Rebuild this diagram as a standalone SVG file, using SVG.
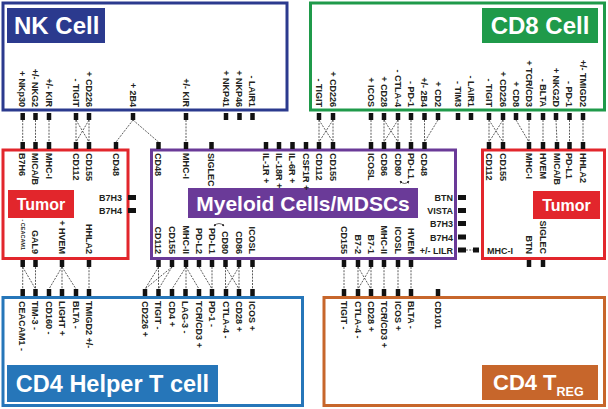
<svg xmlns="http://www.w3.org/2000/svg" xmlns:xlink="http://www.w3.org/1999/xlink" width="608" height="409" viewBox="0 0 608 409">
<style>
.lb{font-family:"Liberation Sans",Arial,sans-serif;font-weight:bold;font-size:9px;fill:#231f20}
.e{text-anchor:end}
.sm{font-size:5.5px}
.ttl{font-family:"Liberation Sans",Arial,sans-serif;font-weight:bold;fill:#fff}
.c{fill:none;stroke:#333;stroke-width:0.8;stroke-dasharray:2 1.2}
.box{fill:#fff;stroke-width:3}
.mk{fill:#111}
</style>
<defs>
<rect id="mv" class="mk" x="-2.25" y="0" width="4.5" height="7"/>
<rect id="mh" class="mk" x="0" y="-2.5" width="8" height="5"/>
<marker id="ah" viewBox="0 0 6 6" refX="5" refY="3" markerWidth="4" markerHeight="4" orient="auto-start-reverse"><path d="M0,0 L6,3 L0,6 z" fill="#231f20"/></marker>
</defs>
<rect width="608" height="409" fill="#fff"/>

<g id="connectors">
<path class="c" d="M22.7,120V142M35.5,120V142M49,120V142M76,120V142M76,120L89,142M89,120L76,142M89,120V142M133,120L116,142M133,120L158.5,142M186,120V142"/>
<path class="c" d="M319,120V142M319,120L333,142M333,120L319,142M333,120V142M371,120V142M384,120V142M384,120L398,142M398,120L384,142M398,120V142M411,120V142M424.5,120V142M438,120L424.5,142"/>
<path class="c" d="M489,120V142M489,120L503,142M503,120L489,142M503,120V142M516,120L529,142M529,120V142M543,120V142M556,120L557,142M569.5,120V142M583,120V142"/>
<path class="c" d="M22.7,267V289M22.7,267L35.5,289M35.5,267V289M62,267L49,289M62,267V289M62,267L76,289M89,267V289"/>
<path class="c" d="M158.5,267L145,289M158.5,267V289M172,267L145,289M172,267L158.5,289M186,267L172,289M186,267V289M186,267L199,289M199,267L212,289M212,267V289M225.5,267V289M225.5,267L239,289M239,267L225.5,289M239,267V289M252.5,267V289"/>
<path class="c" d="M344,267V289M358,267V289M358,267L371,289M371,267L358,289M371,267V289M384,267V289M398,267V289M411,267V289"/>
<path class="c" d="M466,250H473"/>
</g>

<g id="nk-cell">
<rect class="box" x="3" y="3" width="284" height="107" stroke="#2b3a8e"/>
<rect x="7" y="8" width="98" height="35" fill="#2b3a8e"/>
<text class="ttl" x="14" y="34" font-size="24">NK Cell</text>
<use href="#mv" x="22.7" y="113"/><use href="#mv" x="35.5" y="113"/><use href="#mv" x="49" y="113"/><use href="#mv" x="76" y="113"/><use href="#mv" x="89" y="113"/><use href="#mv" x="133" y="113"/><use href="#mv" x="186" y="113"/><use href="#mv" x="226" y="113"/><use href="#mv" x="239.5" y="113"/><use href="#mv" x="252.5" y="113"/>
<text class="lb e" transform="translate(22.7,107) rotate(90)" y="3.2">+ NKp30</text>
<text class="lb e" transform="translate(35.5,107) rotate(90)" y="3.2">+/- NKG2</text>
<text class="lb e" transform="translate(49,107) rotate(90)" y="3.2">+/- KIR</text>
<text class="lb e" transform="translate(76,107) rotate(90)" y="3.2">- TIGIT</text>
<text class="lb e" transform="translate(89,107) rotate(90)" y="3.2">+ CD226</text>
<text class="lb e" transform="translate(133,107) rotate(90)" y="3.2">+ 2B4</text>
<text class="lb e" transform="translate(186,107) rotate(90)" y="3.2">+/- KIR</text>
<text class="lb e" transform="translate(226,107) rotate(90)" y="3.2">+ NKP41</text>
<text class="lb e" transform="translate(239.5,107) rotate(90)" y="3.2">+ NKP46</text>
<text class="lb e" transform="translate(252.5,107) rotate(90)" y="3.2">- LAIR1</text>
</g>

<g id="cd8-cell">
<rect class="box" x="310.5" y="3" width="294" height="107" stroke="#1f9a4a"/>
<rect x="482" y="8" width="116" height="35" fill="#1f9a4a"/>
<text class="ttl" x="540" y="34" font-size="24" text-anchor="middle">CD8 Cell</text>
<use href="#mv" x="319" y="113"/><use href="#mv" x="333" y="113"/><use href="#mv" x="371" y="113"/><use href="#mv" x="384" y="113"/><use href="#mv" x="398" y="113"/><use href="#mv" x="411" y="113"/><use href="#mv" x="424.5" y="113"/><use href="#mv" x="438" y="113"/><use href="#mv" x="458" y="113"/><use href="#mv" x="471" y="113"/><use href="#mv" x="489" y="113"/><use href="#mv" x="503" y="113"/><use href="#mv" x="516" y="113"/><use href="#mv" x="529" y="113"/><use href="#mv" x="543" y="113"/><use href="#mv" x="556" y="113"/><use href="#mv" x="569.5" y="113"/><use href="#mv" x="583" y="113"/>
<text class="lb e" transform="translate(319,107) rotate(90)" y="3.2">- TIGIT</text>
<text class="lb e" transform="translate(333,107) rotate(90)" y="3.2">+ CD226</text>
<text class="lb e" transform="translate(371,107) rotate(90)" y="3.2">+ ICOS</text>
<text class="lb e" transform="translate(384,107) rotate(90)" y="3.2">+ CD28</text>
<text class="lb e" transform="translate(398,107) rotate(90)" y="3.2">- CTLA-4</text>
<text class="lb e" transform="translate(411,107) rotate(90)" y="3.2">- PD-1</text>
<text class="lb e" transform="translate(424.5,107) rotate(90)" y="3.2">+/- 2B4</text>
<text class="lb e" transform="translate(438,107) rotate(90)" y="3.2">+ CD2</text>
<text class="lb e" transform="translate(458,107) rotate(90)" y="3.2">- TIM3</text>
<text class="lb e" transform="translate(471,107) rotate(90)" y="3.2">- LAIR1</text>
<text class="lb e" transform="translate(489,107) rotate(90)" y="3.2">- TIGIT</text>
<text class="lb e" transform="translate(503,107) rotate(90)" y="3.2">+ CD226</text>
<text class="lb e" transform="translate(516,107) rotate(90)" y="3.2">+ CD8</text>
<text class="lb e" transform="translate(529,107) rotate(90)" y="3.2">+ TCR/CD3</text>
<text class="lb e" transform="translate(543,107) rotate(90)" y="3.2">- BLTA</text>
<text class="lb e" transform="translate(556,107) rotate(90)" y="3.2">+ NKG2D</text>
<text class="lb e" transform="translate(569.5,107) rotate(90)" y="3.2">- PD-1</text>
<text class="lb e" transform="translate(583,107) rotate(90)" y="3.2">+/- TMIGD2</text>
</g>

<g id="tumor-left">
<rect class="box" x="3" y="150" width="125" height="108.5" stroke="#e2262c"/>
<rect x="8" y="190" width="66" height="28" fill="#e2262c"/>
<text class="ttl" x="41" y="209.7" font-size="16" text-anchor="middle">Tumor</text>
<use href="#mv" x="22.7" y="142"/><use href="#mv" x="35.5" y="142"/><use href="#mv" x="49" y="142"/><use href="#mv" x="76" y="142"/><use href="#mv" x="89" y="142"/><use href="#mv" x="116" y="142"/>
<use href="#mv" x="22.7" y="260"/><use href="#mv" x="35.5" y="260"/><use href="#mv" x="62" y="260"/><use href="#mv" x="89" y="260"/>
<use href="#mh" x="128" y="197.5"/><use href="#mh" x="128" y="210.5"/>
<text class="lb" transform="translate(22.7,153) rotate(90)" y="3.2">B7H6</text>
<text class="lb" transform="translate(35.5,153) rotate(90)" y="3.2">MICA/B</text>
<text class="lb" transform="translate(49,153) rotate(90)" y="3.2">MHC-I</text>
<text class="lb" transform="translate(76,153) rotate(90)" y="3.2">CD112</text>
<text class="lb" transform="translate(89,153) rotate(90)" y="3.2">CD155</text>
<text class="lb" transform="translate(116,153) rotate(90)" y="3.2">CD48</text>
<text class="lb e" x="122" y="201">B7H3</text>
<text class="lb e" x="122" y="214">B7H4</text>
<text class="lb e sm" transform="translate(22.7,250) rotate(90)" y="2">- CEACAM1</text>
<text class="lb e" transform="translate(35.5,254) rotate(90)" y="3.2">GAL9</text>
<text class="lb e" transform="translate(62,254) rotate(90)" y="3.2">+ HVEM</text>
<text class="lb e" transform="translate(89,254) rotate(90)" y="3.2">HHLA2</text>
</g>

<g id="myeloid">
<rect class="box" x="151.5" y="150" width="304" height="108.5" stroke="#6a3a98"/>
<rect x="188" y="188" width="230" height="30" fill="#6a3a98"/>
<text class="ttl" x="303" y="210.5" font-size="21" text-anchor="middle">Myeloid Cells/MDSCs</text>
<use href="#mv" x="158.5" y="142"/><use href="#mv" x="186" y="142"/><use href="#mv" x="211.5" y="142"/><use href="#mv" x="266" y="142"/><use href="#mv" x="279" y="142"/><use href="#mv" x="292.5" y="142"/><use href="#mv" x="306" y="142"/><use href="#mv" x="319" y="142"/><use href="#mv" x="333" y="142"/><use href="#mv" x="371" y="142"/><use href="#mv" x="384" y="142"/><use href="#mv" x="398" y="142"/><use href="#mv" x="411" y="142"/><use href="#mv" x="424.5" y="142"/>
<use href="#mv" x="158.5" y="260"/><use href="#mv" x="172" y="260"/><use href="#mv" x="186" y="260"/><use href="#mv" x="199" y="260"/><use href="#mv" x="212" y="260"/><use href="#mv" x="225.5" y="260"/><use href="#mv" x="239" y="260"/><use href="#mv" x="252.5" y="260"/><use href="#mv" x="344" y="260"/><use href="#mv" x="358" y="260"/><use href="#mv" x="371" y="260"/><use href="#mv" x="384" y="260"/><use href="#mv" x="398" y="260"/><use href="#mv" x="411" y="260"/>
<use href="#mh" x="458" y="197.5"/><use href="#mh" x="458" y="210.5"/><use href="#mh" x="458" y="223.5"/><use href="#mh" x="458" y="237"/><use href="#mh" x="458" y="250"/>
<text class="lb" transform="translate(158.5,153) rotate(90)" y="3.2">CD48</text>
<text class="lb" transform="translate(186,153) rotate(90)" y="3.2">MHC-I</text>
<text class="lb" transform="translate(211.5,153) rotate(90)" y="3.2">SIGLEC</text>
<text class="lb" transform="translate(266,153) rotate(90)" y="3.2">IL-1R +</text>
<text class="lb" transform="translate(279,153) rotate(90)" y="3.2">IL-18R +</text>
<text class="lb" transform="translate(292.5,153) rotate(90)" y="3.2">IL-6R +</text>
<text class="lb" transform="translate(306,153) rotate(90)" y="3.2">CSF1R +</text>
<text class="lb" transform="translate(319,153) rotate(90)" y="3.2">CD112</text>
<text class="lb" transform="translate(333,153) rotate(90)" y="3.2">CD155</text>
<text class="lb" transform="translate(371,153) rotate(90)" y="3.2">ICOSL</text>
<text class="lb" transform="translate(384,153) rotate(90)" y="3.2">CD86</text>
<text class="lb" transform="translate(398,153) rotate(90)" y="3.2">CD80</text>
<text class="lb" transform="translate(411,153) rotate(90)" y="3.2">PD-L1</text>
<text class="lb" transform="translate(424.5,153) rotate(90)" y="3.2">CD48</text>
<path d="M400,181 Q404.5,186 409,181" fill="none" stroke="#231f20" stroke-width="0.7" marker-start="url(#ah)" marker-end="url(#ah)"/>
<text class="lb e" transform="translate(158.5,254) rotate(90)" y="3.2">CD112</text>
<text class="lb e" transform="translate(172,254) rotate(90)" y="3.2">CD155</text>
<text class="lb e" transform="translate(186,254) rotate(90)" y="3.2">MHC-II</text>
<text class="lb e" transform="translate(199,254) rotate(90)" y="3.2">PD-L2</text>
<text class="lb e" transform="translate(212,254) rotate(90)" y="3.2">PD-L1</text>
<text class="lb e" transform="translate(225.5,254) rotate(90)" y="3.2">CD80</text>
<text class="lb e" transform="translate(239,254) rotate(90)" y="3.2">CD86</text>
<text class="lb e" transform="translate(252.5,254) rotate(90)" y="3.2">ICOSL</text>
<path d="M214,226 Q219,221 224,226" fill="none" stroke="#231f20" stroke-width="0.7" marker-start="url(#ah)" marker-end="url(#ah)"/>
<text class="lb e" transform="translate(344,254) rotate(90)" y="3.2">CD155</text>
<text class="lb e" transform="translate(358,254) rotate(90)" y="3.2">B7-2</text>
<text class="lb e" transform="translate(371,254) rotate(90)" y="3.2">B7-1</text>
<text class="lb e" transform="translate(384,254) rotate(90)" y="3.2">MHC-II</text>
<text class="lb e" transform="translate(398,254) rotate(90)" y="3.2">ICOSL</text>
<text class="lb e" transform="translate(411,254) rotate(90)" y="3.2">HVEM</text>
<text class="lb e" x="453" y="201">BTN</text>
<text class="lb e" x="453" y="214">VISTA</text>
<text class="lb e" x="453" y="227">B7H3</text>
<text class="lb e" x="453" y="240.5">B7H4</text>
<text class="lb e" x="453" y="253.5">+/- LILR</text>
</g>

<g id="tumor-right">
<rect class="box" x="482.5" y="150" width="122" height="108.5" stroke="#e2262c"/>
<rect x="533" y="191" width="67" height="28" fill="#e2262c"/>
<text class="ttl" x="566.5" y="210.7" font-size="16" text-anchor="middle">Tumor</text>
<use href="#mv" x="489" y="142"/><use href="#mv" x="503" y="142"/><use href="#mv" x="529" y="142"/><use href="#mv" x="543" y="142"/><use href="#mv" x="557" y="142"/><use href="#mv" x="569.5" y="142"/><use href="#mv" x="583" y="142"/>
<use href="#mv" x="529" y="260"/><use href="#mv" x="543" y="260"/>
<rect class="mk" x="473" y="247.5" width="6" height="5"/>
<text class="lb" transform="translate(489,153) rotate(90)" y="3.2">CD112</text>
<text class="lb" transform="translate(503,153) rotate(90)" y="3.2">CD155</text>
<text class="lb" transform="translate(529,153) rotate(90)" y="3.2">MHC-I</text>
<text class="lb" transform="translate(543,153) rotate(90)" y="3.2">HVEM</text>
<text class="lb" transform="translate(557,153) rotate(90)" y="3.2">MICA/B</text>
<text class="lb" transform="translate(569.5,153) rotate(90)" y="3.2">PD-L1</text>
<text class="lb" transform="translate(583,153) rotate(90)" y="3.2">HHLA2</text>
<text class="lb e" transform="translate(529,254) rotate(90)" y="3.2">BTN</text>
<text class="lb e" transform="translate(543,254) rotate(90)" y="3.2">SIGLEC</text>
<text class="lb" x="487" y="253.5">MHC-I</text>
</g>

<g id="cd4-helper">
<rect class="box" x="3" y="297.5" width="299.5" height="108" stroke="#2676b9"/>
<rect x="7" y="365" width="211" height="37" fill="#2676b9"/>
<text class="ttl" x="112.5" y="392" font-size="23.5" text-anchor="middle">CD4 Helper T cell</text>
<use href="#mv" x="22.7" y="289"/><use href="#mv" x="35.5" y="289"/><use href="#mv" x="49" y="289"/><use href="#mv" x="62" y="289"/><use href="#mv" x="76" y="289"/><use href="#mv" x="89" y="289"/><use href="#mv" x="145" y="289"/><use href="#mv" x="158.5" y="289"/><use href="#mv" x="172" y="289"/><use href="#mv" x="185.5" y="289"/><use href="#mv" x="199" y="289"/><use href="#mv" x="212" y="289"/><use href="#mv" x="226" y="289"/><use href="#mv" x="239" y="289"/><use href="#mv" x="252.5" y="289"/>
<text class="lb" transform="translate(22.7,301) rotate(90)" y="3.2">CEACAM1 -</text>
<text class="lb" transform="translate(35.5,301) rotate(90)" y="3.2">TIM-3 -</text>
<text class="lb" transform="translate(49,301) rotate(90)" y="3.2">CD160 -</text>
<text class="lb" transform="translate(62,301) rotate(90)" y="3.2">LIGHT +</text>
<text class="lb" transform="translate(76,301) rotate(90)" y="3.2">BLTA -</text>
<text class="lb" transform="translate(89,301) rotate(90)" y="3.2">TMIGD2 +/-</text>
<text class="lb" transform="translate(145,301) rotate(90)" y="3.2">CD226 +</text>
<text class="lb" transform="translate(158.5,301) rotate(90)" y="3.2">TIGIT -</text>
<text class="lb" transform="translate(172,301) rotate(90)" y="3.2">CD4 +</text>
<text class="lb" transform="translate(185.5,301) rotate(90)" y="3.2">LAG-3 -</text>
<text class="lb" transform="translate(199,301) rotate(90)" y="3.2">TCR/CD3 +</text>
<text class="lb" transform="translate(212,301) rotate(90)" y="3.2">PD-1 -</text>
<text class="lb" transform="translate(226,301) rotate(90)" y="3.2">CTLA-4 -</text>
<text class="lb" transform="translate(239,301) rotate(90)" y="3.2">CD28 +</text>
<text class="lb" transform="translate(252.5,301) rotate(90)" y="3.2">ICOS +</text>
</g>

<g id="cd4-treg">
<rect class="box" x="324" y="297.5" width="280.5" height="108" stroke="#c7662b"/>
<rect x="482" y="365" width="116" height="35" fill="#c7662b"/>
<text class="ttl" x="493" y="390" font-size="22">CD4 T<tspan font-size="12.5" dy="6">REG</tspan></text>
<use href="#mv" x="344" y="289"/><use href="#mv" x="358" y="289"/><use href="#mv" x="371" y="289"/><use href="#mv" x="384" y="289"/><use href="#mv" x="398" y="289"/><use href="#mv" x="411" y="289"/><use href="#mv" x="438" y="289"/>
<text class="lb" transform="translate(344,301) rotate(90)" y="3.2">TIGIT -</text>
<text class="lb" transform="translate(358,301) rotate(90)" y="3.2">CTLA-4 -</text>
<text class="lb" transform="translate(371,301) rotate(90)" y="3.2">CD28 +</text>
<text class="lb" transform="translate(384,301) rotate(90)" y="3.2">TCR/CD3 +</text>
<text class="lb" transform="translate(398,301) rotate(90)" y="3.2">ICOS +</text>
<text class="lb" transform="translate(411,301) rotate(90)" y="3.2">BLTA -</text>
<text class="lb" transform="translate(438,301) rotate(90)" y="3.2">CD101</text>
</g>
</svg>
